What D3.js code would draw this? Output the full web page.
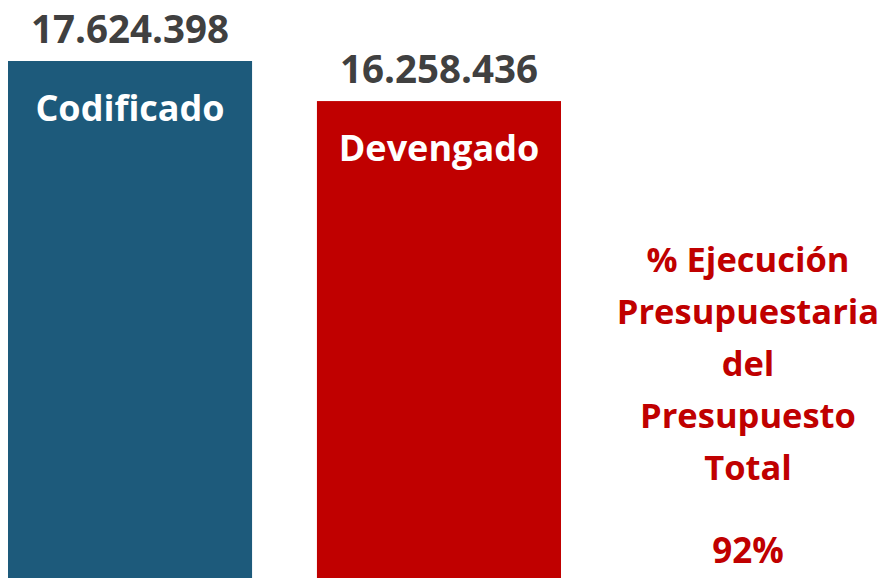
<!DOCTYPE html>
<html>
<head>
<meta charset="utf-8">
<script src="https://cdn.jsdelivr.net/npm/d3@7"></script>
<style>
  body { margin: 0; background: #fff; }
  svg { display: block; font-family: "Open Sans", sans-serif; font-weight: bold; }
</style>
</head>
<body>
<svg id="chart" width="885" height="578"></svg>
<script>
var categories = ["Codificado", "Devengado"];
var values = [17624398, 16258436];
var barColors = ["#1D5A7B", "#C00000"];
var noteLines = ["% Ejecución", "Presupuestaria", "del", "Presupuesto", "Total"];

var svg = d3.select("#chart");

var locale = d3.formatLocale({ decimal: ",", thousands: ".", grouping: [3], currency: ["$", ""] });
var fmt = locale.format(",d");

var xScale = d3.scaleBand().domain(categories).range([8, 561]).paddingInner(0.21).paddingOuter(0);
var yScale = d3.scaleLinear().domain([0, d3.max(values)]).range([578, 61]);

var bars = svg.selectAll("g.bar")
    .data(categories)
    .enter().append("g")
    .attr("class", "bar");

bars.append("rect")
    .attr("x", function(d) { return xScale(d); })
    .attr("y", function(d, i) { return yScale(values[i]); })
    .attr("width", xScale.bandwidth())
    .attr("height", function(d, i) { return yScale(0) - yScale(values[i]); })
    .attr("fill", function(d, i) { return barColors[i]; });

// value above the bar
bars.append("text")
    .attr("x", function(d) { return xScale(d) + xScale.bandwidth() / 2; })
    .attr("y", function(d, i) { return yScale(values[i]) - 18; })
    .attr("text-anchor", "middle")
    .attr("fill", "#404040")
    .style("font-size", "38.5px")
    .text(function(d, i) { return fmt(values[i]); });

// category name inside the bar
bars.append("text")
    .attr("x", function(d) { return xScale(d) + xScale.bandwidth() / 2; })
    .attr("y", function(d, i) { return yScale(values[i]) + 60; })
    .attr("text-anchor", "middle")
    .attr("fill", "#fff")
    .style("font-size", "36px")
    .text(function(d) { return d; });

// execution note on the right
var pct = values[1] / values[0];
svg.append("g")
    .selectAll("text")
    .data(noteLines)
    .enter().append("text")
    .attr("x", 748)
    .attr("y", function(d, i) { return 272 + i * 52; })
    .attr("text-anchor", "middle")
    .attr("fill", "#C00000")
    .style("font-size", "34.5px")
    .text(function(d) { return d; });

svg.append("text")
    .attr("x", 748)
    .attr("y", 563)
    .attr("text-anchor", "middle")
    .attr("fill", "#C00000")
    .style("font-size", "35px")
    .text(d3.format(".0%")(pct));
</script>
</body>
</html>
